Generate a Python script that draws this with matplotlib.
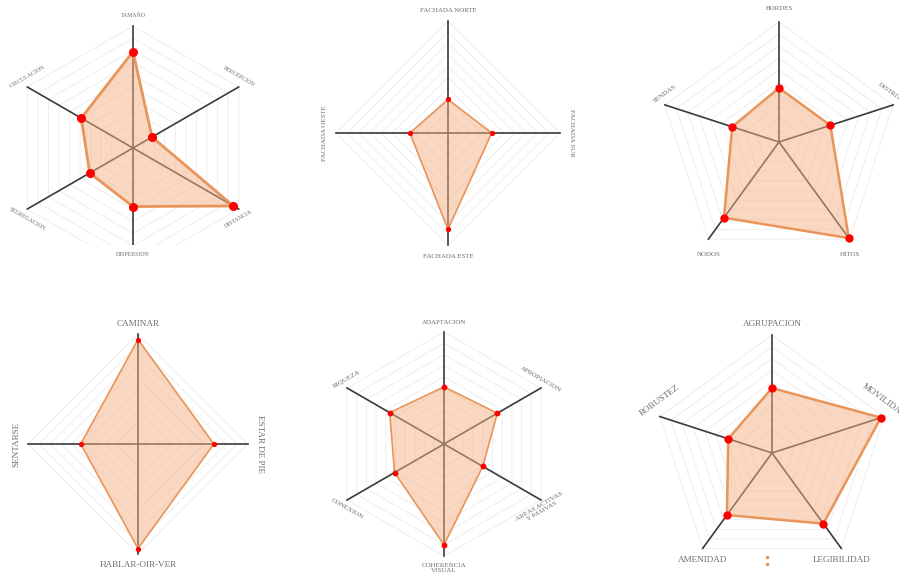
import numpy as np
import matplotlib.pyplot as plt
from matplotlib.patches import Rectangle

W, H = 899, 573
max_value = 10

labels1 = ['TAMAÑO', 'PERCEPCION', 'DISTANCIA', 'DISPERSION', 'SEGREGACION', 'CIRCULACION']
values1 = [7.9, 1.8, 9.5, 4.8, 4.1, 4.9]

labels2 = ['FACHADA NORTE', 'FACHADA SUR', 'FACHADA ESTE', 'FACHADA OESTE']
values2 = [3.0, 3.9, 8.6, 3.4]

labels3 = ['BORDES', 'DISTRITOS', 'HITOS', 'NODOS', 'SENDAS']
values3 = [4.5, 4.5, 9.9, 7.8, 4.1]

labels4 = ['CAMINAR', 'ESTAR DE PIE', 'HABLAR-OIR-VER', 'SENTARSE']
values4 = [9.5, 6.9, 9.5, 5.2]

labels5 = ['ADAPTACION', 'APROPIACION', 'AREAS ACTIVAS\nY PASIVAS', 'COHERENCIA\nVISUAL',
           'CONEXION', 'RIQUEZA']
values5 = [5.1, 5.5, 4.0, 9.0, 5.1, 5.6]

labels6 = ['AGRUPACION', 'MOVILIDAD', 'LEGIBILIDAD', 'AMENIDAD', 'ROBUSTEZ']
values6 = [5.5, 9.7, 7.4, 6.5, 3.9]

# layout of each radar (pixels): centre, radius, text size, line sizes, label offsets
layout = [
    dict(cx=133, cy=148, R=122, fs=4.2, lw=2.0, ms=6.5, top=11, bot=-15, side=10, hor=11, low=14, rot=30, clip=245),
    dict(cx=448, cy=133, R=112, fs=5.0, lw=1.2, ms=3.8, top=10, bot=12, side=10, hor=11, low=14, rot=30, clip=H),
    dict(cx=779, cy=142, R=120, fs=5.0, lw=1.8, ms=6.0, top=13, bot=12, side=11, hor=11, low=15, rot=36, clip=H),
    dict(cx=138, cy=444, R=110, fs=6.6, lw=1.2, ms=3.8, top=10, bot=11, side=10, hor=12, low=14, rot=30, clip=H),
    dict(cx=444, cy=444, R=112, fs=5.0, lw=1.2, ms=4.2, top=10, bot=12, side=9, hor=11, low=14, rot=30, clip=H),
    dict(cx=772, cy=453, R=118, fs=6.6, lw=1.8, ms=6.0, top=11, bot=12, side=16, hor=11, low=12, rot=36, clip=H),
]

charts = [(labels1, values1), (labels2, values2), (labels3, values3),
          (labels4, values4), (labels5, values5), (labels6, values6)]

fig = plt.figure(figsize=(W / 100, H / 100), dpi=100)


def radar(labels, values, cfg):
    cx, cy, R = cfg['cx'], cfg['cy'], cfg['R']
    ax = fig.add_axes([(cx - R) / W, (H - cy - R) / H, 2 * R / W, 2 * R / H], projection='polar')
    ax.set_theta_offset(np.pi / 2)
    ax.set_theta_direction(-1)
    ax.set_ylim(0, max_value)
    ax.set_axis_off()

    clip = Rectangle((0, (H - cfg['clip']) / H), 1, cfg['clip'] / H, transform=fig.transFigure)

    n = len(labels)
    ang = np.linspace(0, 2 * np.pi, n, endpoint=False)
    closed = np.append(ang, ang[0])
    vals = np.append(values, values[0])

    arts = []
    for lev in range(1, max_value + 1):
        arts += ax.plot(closed, [lev] * (n + 1), color='#ebebeb', lw=0.6, zorder=1)
    for a in ang:
        arts += ax.plot([a, a], [0, max_value], color='#3a3a3a', lw=1.2, zorder=2)
    arts += ax.fill(closed, vals, color='#f4b183', alpha=0.5, lw=0, zorder=3)
    arts += ax.plot(closed, vals, color='#e8955a', lw=cfg['lw'], zorder=4)
    arts += ax.plot(ang, values, 'o', color='#ff0000', ms=cfg['ms'], mew=0, zorder=5)
    for art in arts:
        art.set_clip_path(clip)

    for a, lab in zip(ang, labels):
        t = np.pi / 2 - a
        c, s = np.cos(t), np.sin(t)
        if s > 0.99:
            dx, dy, r = 0, cfg['top'], 0
        elif s < -0.99:
            dx, dy, r = 0, -cfg['bot'], 0
        elif s < -0.75:
            dx, dy, r = 0, -cfg['low'], 0
        elif abs(c) > 0.99:
            dx, dy, r = np.sign(c) * cfg['hor'], 0, -90 * np.sign(c)
        else:
            dx, dy = 0, np.sign(s) * cfg['side']
            r = -cfg['rot'] if c * s > 0 else cfg['rot']
        ax.annotate(lab, xy=(a, max_value), xytext=(dx, dy), textcoords='offset pixels',
                    ha='center', va='center', rotation=r, fontsize=cfg['fs'],
                    family='Liberation Serif', color='#6e6e6e', linespacing=1.0,
                    annotation_clip=False)


for (labs, vals), cfg in zip(charts, layout):
    radar(labs, vals, cfg)

fig.text(768 / W, 1 - 561 / H, ':', color='#e8955a', fontsize=13, fontweight='bold',
         ha='center', va='center')

fig.savefig('out.png', dpi=100)
